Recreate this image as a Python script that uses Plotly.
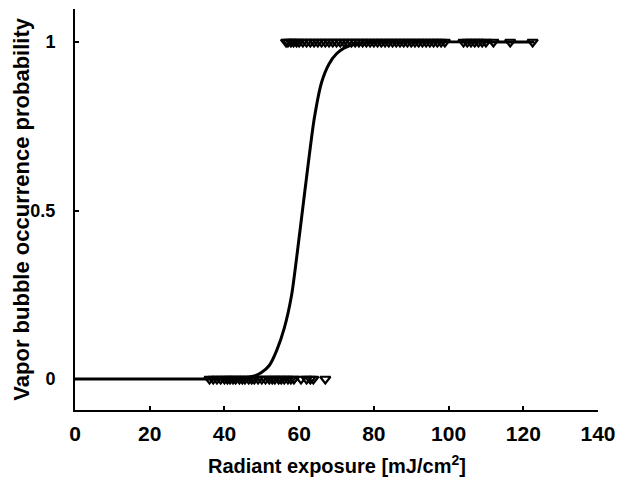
import plotly.graph_objects as go

# Observations (radiant exposure, outcome)
x_zero = [36, 37, 38, 39, 40, 40.8, 41.5, 42.3, 43, 44, 44.8, 45.5, 46.5, 47.3, 48, 49, 50, 51, 52,
          52.8, 53.5, 54.5, 55.2, 56, 57, 57.8, 58.6, 60.5, 62, 63, 63.8, 67]
y_zero = [0] * len(x_zero)
x_one = [56.5, 57, 57.8, 58.5, 59.3, 60, 61, 62, 63, 64, 65, 66, 67, 68, 69, 70, 71, 72, 73, 74, 75,
         76, 77, 78, 79, 80, 81, 82, 83, 84, 85, 86, 87, 88, 89, 90, 91, 92, 93, 94, 95, 96, 97, 98,
         99, 104, 105, 106, 107, 108, 109, 110, 112, 116.5, 122.5]
y_one = [1] * len(x_one)

# Fitted curve
curve_x = [0, 42, 46, 48, 50, 52, 54, 56, 58, 60, 61, 62, 64, 66, 68, 70, 72, 75, 80, 123]
curve_y = [0, 0.001, 0.004, 0.009, 0.02, 0.04, 0.085, 0.15, 0.25, 0.42, 0.51, 0.6, 0.77, 0.88,
           0.935, 0.965, 0.982, 0.994, 0.999, 1]

x_ticks = [0, 20, 40, 60, 80, 100, 120, 140]
y_ticks = [0, 0.5, 1]
y_tick_labels = ["0", "0.5", "1"]

font = "Liberation Sans, Arial, sans-serif"

fig = go.Figure()
marker = dict(symbol="triangle-down-open", size=9, color="black", line=dict(width=2.2, color="black"))
fig.add_trace(go.Scatter(x=x_zero, y=y_zero, mode="markers", marker=marker, showlegend=False))
fig.add_trace(go.Scatter(x=x_one, y=y_one, mode="markers", marker=marker, showlegend=False))
fig.add_trace(go.Scatter(x=curve_x, y=curve_y, mode="lines",
                         line=dict(color="black", width=3, shape="spline", smoothing=0.6),
                         showlegend=False, hoverinfo="skip"))

fig.update_layout(
    width=619, height=478,
    margin=dict(l=75, r=21, t=9, b=68),
    paper_bgcolor="white", plot_bgcolor="white",
    font=dict(family=font, size=18, color="black"),
    xaxis=dict(range=[0, 140], tickvals=x_ticks, showgrid=False, zeroline=False, automargin=False,
               showline=True, linecolor="black", linewidth=2, ticks="inside", ticklen=4,
               tickwidth=2, tickcolor="black", ticklabelstandoff=4,
               tickfont=dict(family=font, size=21, weight="bold")),
    yaxis=dict(range=[-0.092, 1.098], tickvals=y_ticks, ticktext=y_tick_labels, showgrid=False,
               zeroline=False, showline=True, linecolor="black", linewidth=2, ticks="inside",
               ticklen=4, tickwidth=2, tickcolor="black", automargin=False, ticklabelstandoff=14,
               tickfont=dict(family=font, size=18, weight="bold")),
    annotations=[
        dict(text="<b>Radiant exposure [mJ/cm<sup>2</sup>]</b>", xref="paper", yref="paper",
             x=0.5, y=-0.135, xanchor="center", yanchor="middle", showarrow=False,
             font=dict(family=font, size=20, color="black")),
        dict(text="<b>Vapor bubble occurrence probability</b>", xref="paper", yref="paper",
             x=-0.103, y=0.5, xanchor="center", yanchor="middle", textangle=-90, showarrow=False,
             font=dict(family=font, size=22, color="black")),
    ],
)

fig.write_html(
    "out.html",
    config={"displayModeBar": False},
    post_script="document.body.style.margin='0';document.body.style.overflow='hidden';",
)
